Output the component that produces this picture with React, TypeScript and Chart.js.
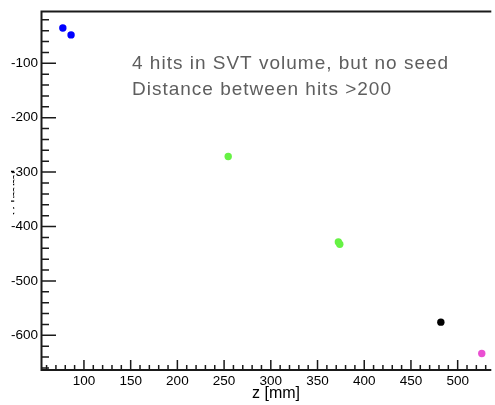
import React, { useEffect, useRef } from "react";
import { Chart, registerables } from "chart.js";

Chart.register(...registerables);

// Axis ranges and tick labels
const xMin = 55.1;
const xMax = 536;
const yMin = -663.8;
const yMax = -5.8;
const xTicks = [100, 150, 200, 250, 300, 350, 400, 450, 500];
const yTicks = [-100, -200, -300, -400, -500, -600];

// Hits (z [mm], y [mm])
const blueZ = [77.4, 86.2];
const blueY = [-35, -47.7];
const greenZ = [254.4, 372.3, 373.8];
const greenY = [-271.4, -428.5, -432.5];
const blackZ = [482];
const blackY = [-575.8];
const magentaZ = [525.8];
const magentaY = [-633.4];

const xTitle = "z [mm]";
const yTitle = "y [mm]";
const noteLines = ["4 hits in SVT volume, but no seed", "Distance between hits >200"];

const FONT = "'Liberation Sans', Arial, Helvetica, sans-serif";

const toPts = (zs: number[], ys: number[]) => zs.map((z, i) => ({ x: z, y: ys[i] }));

const framePlugin = {
  id: "rootFrame",
  afterDraw(chart: any) {
    const { ctx, chartArea: a, scales } = chart;
    const x = scales.x;
    const y = scales.y;
    ctx.save();
    ctx.strokeStyle = "#1a1a1a";
    ctx.lineWidth = 1.5;
    ctx.beginPath();
    // x ticks (inside, upward)
    for (let v = Math.ceil(xMin / 10) * 10; v <= xMax; v += 10) {
      const px = x.getPixelForValue(v);
      const len = v % 50 === 0 ? 10 : 5;
      ctx.moveTo(px, a.bottom);
      ctx.lineTo(px, a.bottom - len);
    }
    // y ticks (inside, rightward)
    for (let v = Math.ceil(yMin / 20) * 20; v <= yMax; v += 20) {
      const py = y.getPixelForValue(v);
      const len = v % 100 === 0 ? 14 : 7;
      ctx.moveTo(a.left, py);
      ctx.lineTo(a.left + len, py);
    }
    ctx.stroke();

    ctx.lineWidth = 2;
    ctx.beginPath();
    ctx.moveTo(a.left - 0.5, a.top - 0.5);
    ctx.lineTo(a.right, a.top - 0.5);
    ctx.moveTo(a.left - 0.5, a.top - 1.5);
    ctx.lineTo(a.left - 0.5, a.bottom + 1);
    ctx.moveTo(a.left - 1.5, a.bottom);
    ctx.lineTo(a.right, a.bottom);
    ctx.stroke();

    // x title
    ctx.fillStyle = "#000";
    ctx.font = `16px ${FONT}`;
    ctx.textAlign = "left";
    ctx.textBaseline = "alphabetic";
    ctx.fillText(xTitle, 252, 398);

    // clipped y title (only a sliver is visible)
    ctx.save();
    ctx.beginPath();
    ctx.rect(11, 150, 3.2, 80);
    ctx.clip();
    ctx.translate(21, 192);
    ctx.rotate(-Math.PI / 2);
    ctx.font = `15px ${FONT}`;
    ctx.textAlign = "center";
    ctx.fillText(yTitle, 0, 0);
    ctx.restore();

    // annotation
    ctx.fillStyle = "#5e5e5e";
    ctx.font = `19px ${FONT}`;
    (ctx as any).letterSpacing = "1px";
    ctx.textAlign = "left";
    ctx.fillText(noteLines[0], 132, 69);
    ctx.fillText(noteLines[1], 132, 94.5);
    (ctx as any).letterSpacing = "0px";
    ctx.restore();
  },
};

export default function App() {
  const ref = useRef<HTMLCanvasElement | null>(null);

  useEffect(() => {
    if (!ref.current) return;
    const ds = (data: any[], color: string) => ({
      data,
      backgroundColor: color,
      borderColor: color,
      borderWidth: 0,
      pointRadius: 3.7,
      pointHoverRadius: 3.7,
    });
    const chart = new Chart(ref.current, {
      type: "scatter",
      data: {
        datasets: [
          ds(toPts(blueZ, blueY), "#0000ff"),
          ds(toPts(greenZ, greenY), "#66f244"),
          ds(toPts(blackZ, blackY), "#000000"),
          ds(toPts(magentaZ, magentaY), "#ea4fd2"),
        ],
      },
      options: {
        animation: false,
        responsive: false,
        events: [],
        layout: { padding: { top: 9, right: 0, left: 0, bottom: 0 } },
        plugins: { legend: { display: false }, tooltip: { enabled: false } },
        scales: {
          x: {
            type: "linear",
            min: xMin,
            max: xMax,
            grid: { display: false, drawTicks: false },
            border: { display: false },
            afterBuildTicks: (s: any) => {
              s.ticks = xTicks.map((v) => ({ value: v }));
            },
            afterFit: (s: any) => {
              s.height = 35;
            },
            ticks: {
              padding: 3,
              color: "#000",
              maxRotation: 0,
              autoSkip: false,
              font: { family: FONT, size: 13.5 },
            },
          },
          y: {
            type: "linear",
            min: yMin,
            max: yMax,
            grid: { display: false, drawTicks: false },
            border: { display: false },
            afterBuildTicks: (s: any) => {
              s.ticks = yTicks.map((v) => ({ value: v }));
            },
            afterFit: (s: any) => {
              s.width = 42;
            },
            ticks: {
              padding: 4,
              color: "#000",
              autoSkip: false,
              font: { family: FONT, size: 13.5 },
            },
          },
        },
      },
      plugins: [framePlugin],
    });
    return () => chart.destroy();
  }, []);

  return (
    <div style={{ position: "absolute", left: 0, top: 0, width: 495, height: 405, background: "#fff" }}>
      <canvas ref={ref} width={495} height={405} style={{ display: "block" }} />
    </div>
  );
}
